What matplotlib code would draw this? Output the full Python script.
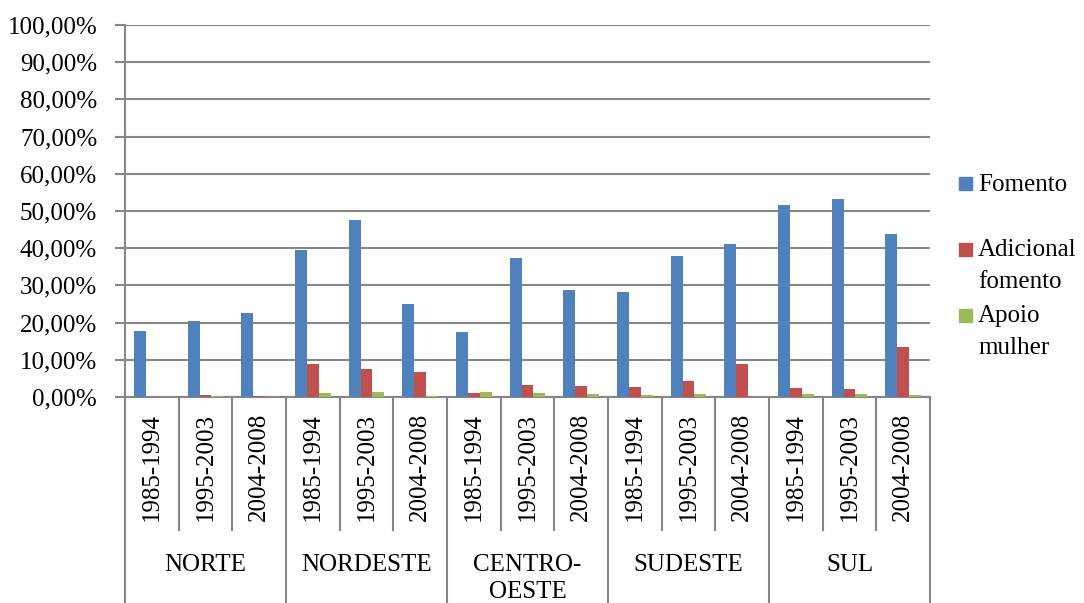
import matplotlib
matplotlib.use('Agg')
import matplotlib.pyplot as plt
from matplotlib.patches import Rectangle
import numpy as np

# Datos (porcentajes)
regioes = ['NORTE', 'NORDESTE', 'CENTRO-\nOESTE', 'SUDESTE', 'SUL']
periodos = ['1985-1994', '1995-2003', '2004-2008']
series = ['Fomento', 'Adicional\nfomento', 'Apoio\nmulher']

fomento = [17.8, 20.5, 22.7, 39.5, 47.6, 24.9, 17.6, 37.3, 28.8,
           28.3, 37.9, 41.0, 51.7, 53.2, 43.8]
adicional = [0.1, 0.5, 0.2, 8.9, 7.6, 6.8, 1.2, 3.2, 2.9,
             2.8, 4.4, 9.0, 2.5, 2.2, 13.5]
apoio = [0.0, 0.2, 0.0, 1.2, 1.4, 0.4, 1.4, 1.2, 0.9,
         0.5, 0.9, 0.1, 0.9, 0.9, 0.5]

cores = ['#4F81BD', '#C0504D', '#9BBB59']
cinza = '#868686'
fs = 18

plt.rcParams['font.family'] = ['Liberation Serif', 'DejaVu Serif']

fig = plt.figure(figsize=(10.84, 6.03), dpi=100)
ax = fig.add_axes([125 / 1084, 1 - 397 / 603, 805 / 1084, 372 / 603])

n = len(regioes) * len(periodos)
x = np.arange(n)
w = 0.22
for k, (vals, cor) in enumerate(zip([fomento, adicional, apoio], cores)):
    ax.bar(x + (k - 1) * w, vals, width=w, color=cor, zorder=3)

ax.set_xlim(-0.5, n - 0.5)
ax.set_ylim(0, 100)
yt = np.arange(0, 101, 10)
ax.set_yticks(yt)
ax.set_yticklabels([f'{v:.2f}%'.replace('.', ',') for v in yt], fontsize=fs)
ax.tick_params(axis='y', length=7, width=1.5, color=cinza, pad=13)
ax.set_xticks([])
ax.grid(axis='y', color=cinza, lw=1.5, zorder=0)

for s in ['top', 'right']:
    ax.spines[s].set_visible(False)
for s in ['left', 'bottom']:
    ax.spines[s].set_color(cinza)
    ax.spines[s].set_linewidth(1.5)

# Etiquetas jerárquicas del eje x
tr = ax.get_xaxis_transform()
for i in range(n):
    ax.text(i, -0.043, periodos[i % 3], rotation=90, ha='center', va='top',
            fontsize=fs, transform=tr)
    if i % 3 != 0:
        ax.plot([i - 0.5, i - 0.5], [0, -0.3575], color=cinza, lw=1.5,
                transform=tr, clip_on=False)
for g in range(len(regioes) + 1):
    ax.plot([g * 3 - 0.5, g * 3 - 0.5], [0, -0.554], color=cinza, lw=1.5,
            transform=tr, clip_on=False)
for g, nome in enumerate(regioes):
    for j, linha in enumerate(nome.split('\n')):
        ax.text(g * 3 + 1, -0.4677 - j * 27 / 372, linha, ha='center',
                va='baseline', fontsize=fs, transform=tr)

# Leyenda
for k, (nome, cor) in enumerate(zip(series, cores)):
    yc = [183, 249, 315][k]
    fig.add_artist(Rectangle((959 / 1084, 1 - (yc + 6.5) / 603), 13 / 1084, 13 / 603,
                             transform=fig.transFigure, color=cor))
    for j, linha in enumerate(nome.split('\n')):
        fig.text(978 / 1084, 1 - (yc + 7.5 + j * 32) / 603, linha,
                 ha='left', va='baseline', fontsize=fs)

fig.savefig('out.png', dpi=100)
